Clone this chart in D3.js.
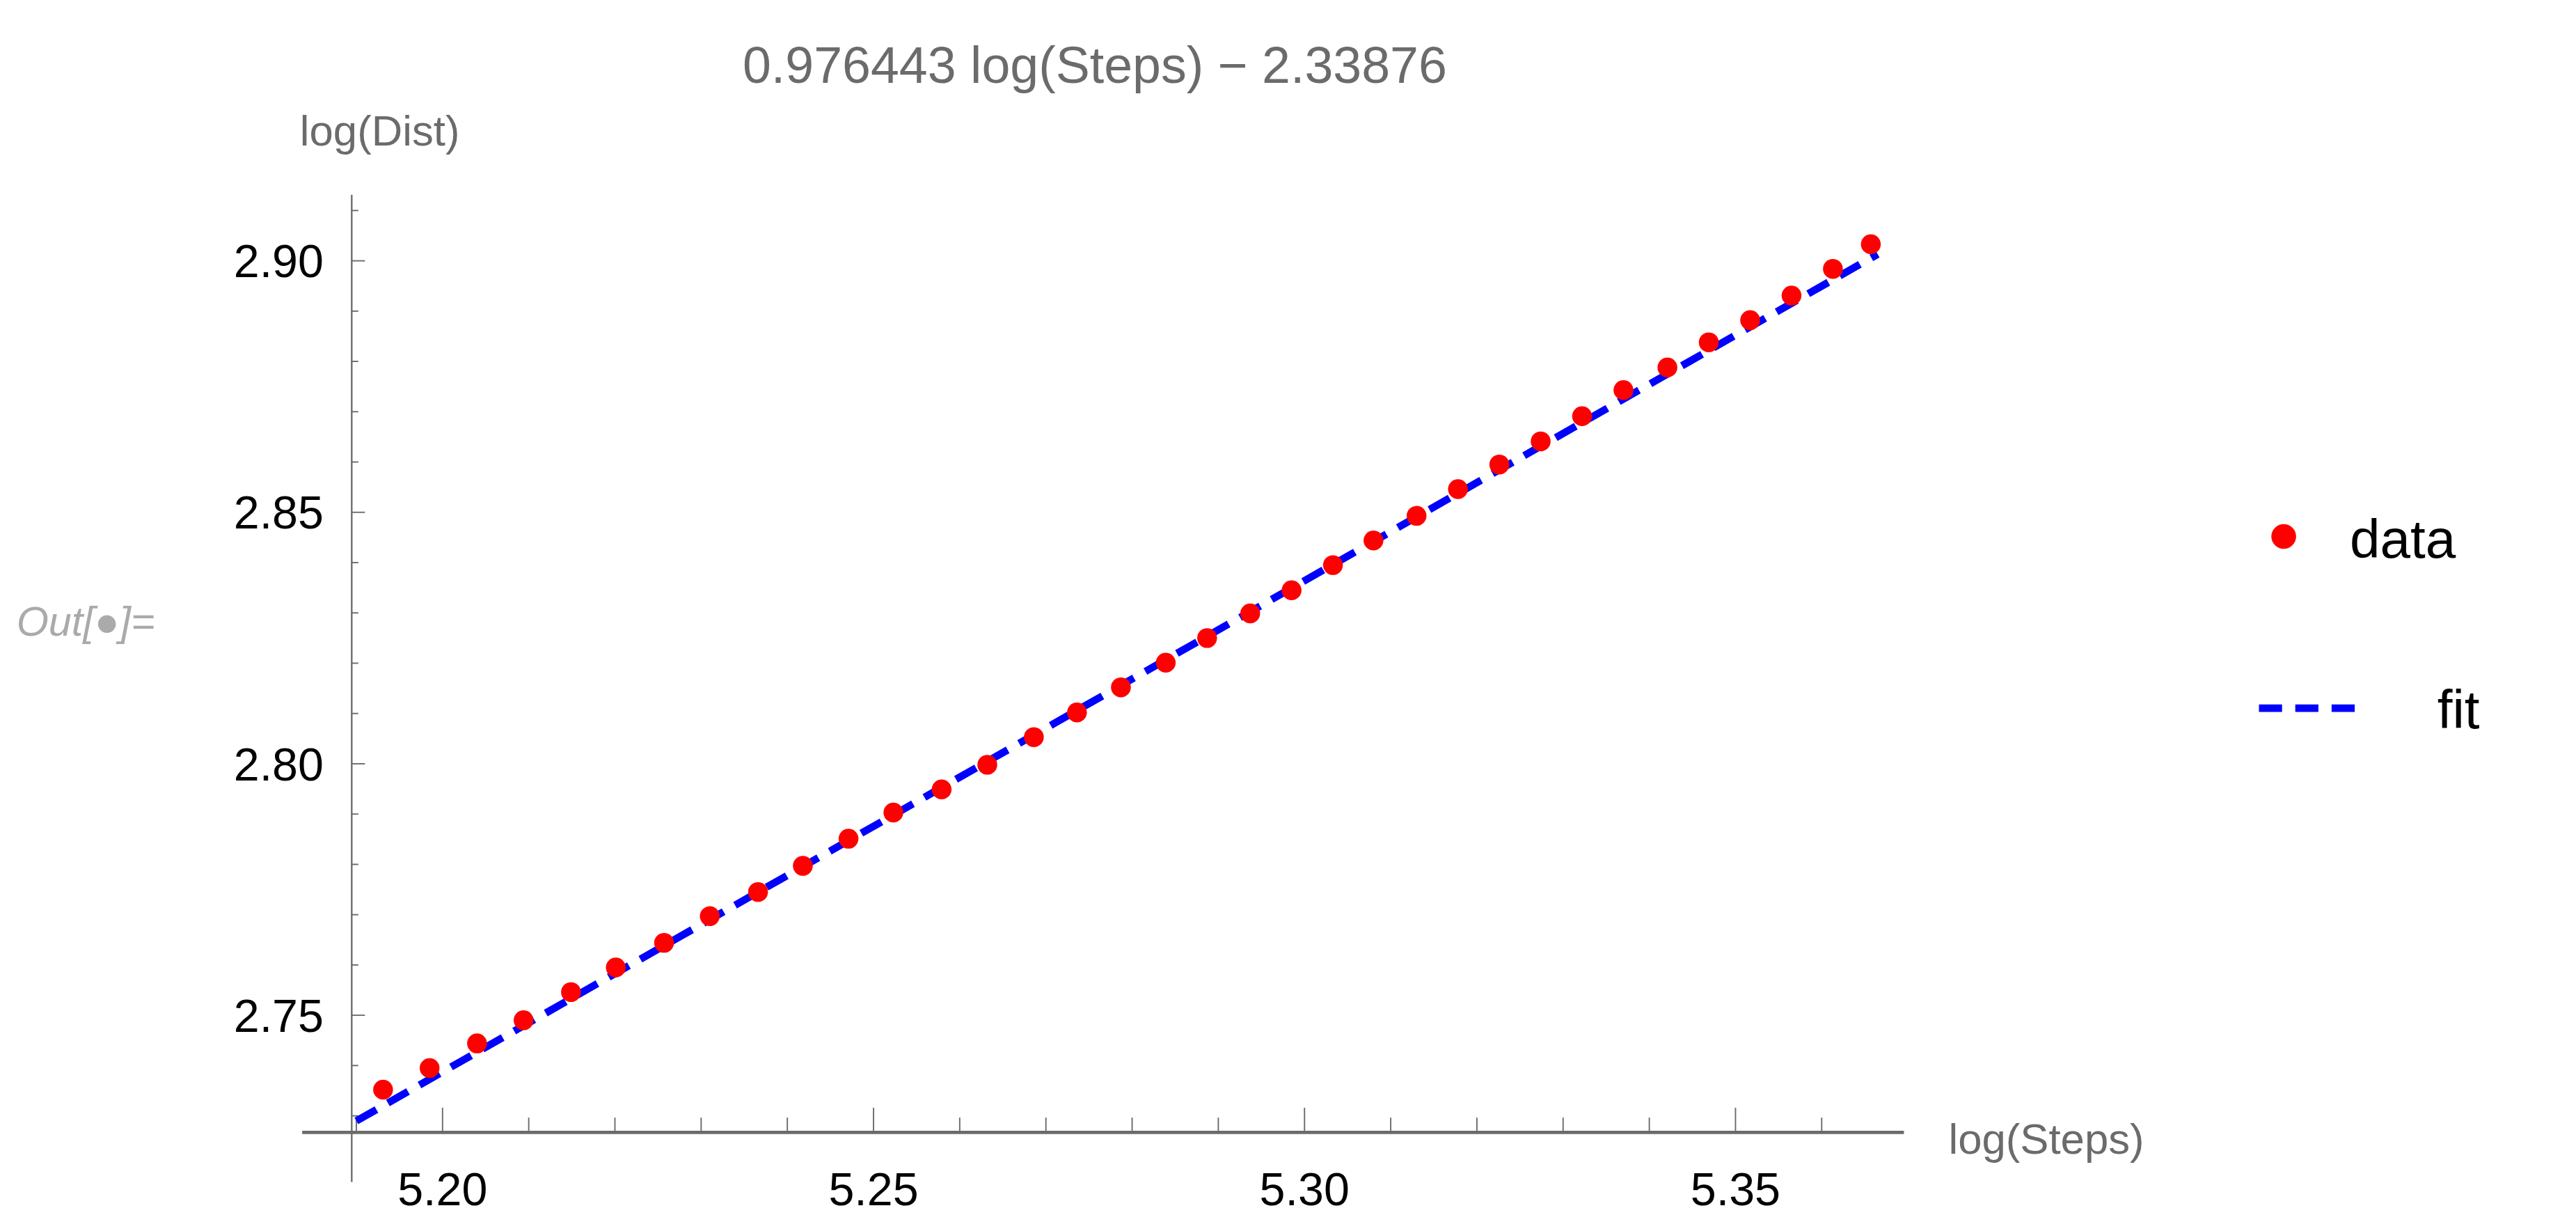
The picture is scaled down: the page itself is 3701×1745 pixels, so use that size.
<!DOCTYPE html>
<html><head><meta charset="utf-8">
<script src="https://cdn.jsdelivr.net/npm/d3@7"></script>
<style>body{margin:0;background:#fff}svg{display:block}text{font-family:"Liberation Sans",Arial,sans-serif}</style>
</head><body>
<script>
const xData=[5.1931,5.1985,5.2040,5.2094,5.2149,5.2201,5.2257,5.2310,5.2366,5.2418,5.2471,5.2523,5.2579,5.2632,5.2686,5.2736,5.2787,5.2839,5.2887,5.2937,5.2985,5.3033,5.3080,5.3130,5.3178,5.3226,5.3274,5.3322,5.3370,5.3421,5.3469,5.3517,5.3565,5.3613,5.3657];
const yData=[2.7352,2.7395,2.7444,2.7490,2.7546,2.7595,2.7644,2.7697,2.7745,2.7797,2.7851,2.7903,2.7949,2.7998,2.8053,2.8102,2.8152,2.8201,2.8250,2.8299,2.8345,2.8395,2.8444,2.8493,2.8546,2.8595,2.8641,2.8691,2.8743,2.8788,2.8838,2.8882,2.8931,2.8984,2.9033];
const fitSlope=0.976443, fitIntercept=-2.33876;
const fitRange=[5.1900,5.3665];
const xTicks=[5.20,5.25,5.30,5.35];
const yTicks=[2.75,2.80,2.85,2.90];
const title="0.976443 log(Steps) \u2212 2.33876";

const svg=d3.select("body").append("svg").attr("width",3701).attr("height",1745)
 .attr("viewBox","0 0 1560 736").attr("preserveAspectRatio","none");
const x=d3.scaleLinear().domain([5.20,5.35]).range([268,1051]);
const y=d3.scaleLinear().domain([2.75,2.90]).range([615,158]);
const axisY=686, axisX=213;
const gray="#6b6b6b";
svg.append("line").attr("x1",183).attr("x2",1153).attr("y1",axisY).attr("y2",axisY).attr("stroke",gray).attr("stroke-width",2);
svg.append("line").attr("x1",axisX).attr("x2",axisX).attr("y1",118).attr("y2",716).attr("stroke",gray).attr("stroke-width",1);
const xMinor=d3.range(519,537).map(i=>i/100);
xMinor.forEach(v=>{const major=xTicks.some(t=>Math.abs(t-v)<1e-6);
 svg.append("line").attr("x1",x(v)).attr("x2",x(v)).attr("y1",axisY).attr("y2",axisY-(major?15:9)).attr("stroke",gray).attr("stroke-width",0.8);});
xTicks.forEach(v=>svg.append("text").attr("x",x(v)).attr("y",730).attr("text-anchor","middle").attr("font-size",28).attr("fill","#000").text(v.toFixed(2)));
const yMinor=d3.range(273,292).map(i=>i/100);
yMinor.forEach(v=>{const major=yTicks.some(t=>Math.abs(t-v)<1e-6);
 svg.append("line").attr("x1",axisX).attr("x2",axisX+(major?8:4)).attr("y1",y(v)).attr("y2",y(v)).attr("stroke",gray).attr("stroke-width",0.8);});
yTicks.forEach(v=>svg.append("text").attr("x",196).attr("y",y(v)+10).attr("text-anchor","end").attr("font-size",28).attr("fill","#000").text(v.toFixed(2)));
svg.append("text").attr("x",663).attr("y",50).attr("text-anchor","middle").attr("font-size",31).attr("fill",gray).text(title);
svg.append("text").attr("x",230).attr("y",88).attr("text-anchor","middle").attr("font-size",26).attr("fill",gray).text("log(Dist)");
svg.append("text").attr("x",1180).attr("y",699).attr("font-size",26).attr("fill",gray).text("log(Steps)");
svg.append("text").attr("x",10).attr("y",385).attr("font-size",25).attr("font-style","italic").attr("fill","#aaa").text("Out[\u25CF]=");
svg.append("line").attr("x1",x(fitRange[0])).attr("y1",y(fitSlope*fitRange[0]+fitIntercept))
 .attr("x2",x(fitRange[1])).attr("y2",y(fitSlope*fitRange[1]+fitIntercept))
 .attr("stroke","#0000ff").attr("stroke-width",4.5).attr("stroke-dasharray","14,8");
svg.selectAll("circle.pt").data(xData.map((v,i)=>[v,yData[i]])).enter().append("circle")
 .attr("cx",d=>x(d[0])).attr("cy",d=>y(d[1])).attr("r",6).attr("fill","#ff0000");
svg.append("circle").attr("cx",1383).attr("cy",325).attr("r",7.5).attr("fill","#ff0000");
svg.append("text").attr("x",1423).attr("y",338).attr("font-size",33).attr("fill","#000").text("data");
svg.append("line").attr("x1",1368).attr("x2",1432).attr("y1",429).attr("y2",429).attr("stroke","#0000ff").attr("stroke-width",4.5).attr("stroke-dasharray","14,8");
svg.append("text").attr("x",1476).attr("y",441).attr("font-size",33).attr("fill","#000").text("fit");
</script></body></html>
